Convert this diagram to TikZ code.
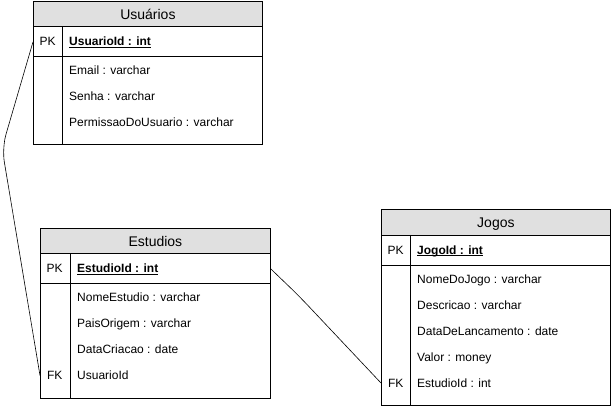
\documentclass[tikz,border=0pt]{standalone}
\usepackage{fontspec}
\setmainfont{Liberation Sans}

\begin{document}
\begin{tikzpicture}[x=1pt,y=-1pt,
	tblhead/.style={draw=color3, fill=color1, line width=0.8pt, anchor=north west, inner sep=0pt, minimum height=25.5pt, text height=10pt, text depth=0pt, font=\fontsize{14}{16}\selectfont},
	tblpart/.style={draw=color3, fill=white, line width=0.8pt, anchor=north west, inner sep=0pt},
	keycell/.style={anchor=west, inner sep=0pt, minimum width=29pt, text height=8.6pt, text depth=0pt, font=\fontsize{12}{14}\selectfont},
	field/.style={anchor=west, inner sep=0pt, text height=8.6pt, text depth=0pt, font=\fontsize{12}{14}\selectfont},
	pkfield/.style={field, font=\bfseries\fontsize{12}{14}\selectfont},
	divider/.style={draw=color3, line width=0.8pt},
	link/.style={draw=color3, line width=0.6pt, rounded corners=14pt}]
	\definecolor{color1}{HTML}{E0E0E0}
	\definecolor{color3}{gray}{0.}
	\useasboundingbox (0,0) rectangle (611,406);
	%% Usuarios ------
	\node[tblhead, minimum width=229pt] (usu) at (33,1) {Usuários};
	\node[tblpart, minimum width=229pt, minimum height=30pt] (usu-pk) at (33,26.5) {};
	\node[tblpart, minimum width=229pt, minimum height=88pt] (usu-body) at (33,56.5) {};
	\draw[divider] ([xshift=29pt]usu-pk.north west) -- ([xshift=29pt]usu-body.south west);
	\node[keycell] (usu-pkk) at (33,41.5) {PK};
	\node[pkfield] (usu-id) at (69,41.5) {\underline{UsuarioId : int}};
	\node[field] (usu-email) at (69,70.5) {Email : varchar};
	\node[field] (usu-senha) at (69,96.5) {Senha : varchar};
	\node[field] (usu-perm) at (69,122.5) {PermissaoDoUsuario : varchar};
	%% Estudios ------
	\node[tblhead, minimum width=230pt] (est) at (40,228) {Estudios};
	\node[tblpart, minimum width=230pt, minimum height=30pt] (est-pk) at (40,253.5) {};
	\node[tblpart, minimum width=230pt, minimum height=114pt] (est-body) at (40,283.5) {};
	\draw[divider] ([xshift=30pt]est-pk.north west) -- ([xshift=30pt]est-body.south west);
	\node[keycell] (est-pkk) at (40,268.5) {PK};
	\node[pkfield] (est-id) at (77,268.5) {\underline{EstudioId : int}};
	\node[field] (est-nome) at (77,297.5) {NomeEstudio : varchar};
	\node[field] (est-pais) at (77,323.5) {PaisOrigem : varchar};
	\node[field] (est-data) at (77,349.5) {DataCriacao : date};
	\node[keycell] (est-fk) at (40,375.5) {FK};
	\node[field] (est-usu) at (77,375.5) {UsuarioId};
	%% Jogos ---------
	\node[tblhead, minimum width=229pt] (jog) at (381,209.5) {Jogos};
	\node[tblpart, minimum width=229pt, minimum height=30pt] (jog-pk) at (381,235) {};
	\node[tblpart, minimum width=229pt, minimum height=140pt] (jog-body) at (381,265) {};
	\draw[divider] ([xshift=29pt]jog-pk.north west) -- ([xshift=29pt]jog-body.south west);
	\node[keycell] (jog-pkk) at (381,250) {PK};
	\node[pkfield] (jog-id) at (417,250) {\underline{\smash{JogoId : int}}};
	\node[field] (jog-nome) at (417,279) {NomeDoJogo : varchar};
	\node[field] (jog-desc) at (417,305) {Descricao : varchar};
	\node[field] (jog-data) at (417,331) {DataDeLancamento : date};
	\node[field] (jog-valor) at (417,357) {Valor : money};
	\node[keycell] (jog-fk) at (381,383) {FK};
	\node[field] (jog-est) at (417,383) {EstudioId : int};
	%% Edges ---------
	\coordinate (bend1) at (2,148);
	\coordinate (bend2) at (299,296);
	\draw[link] (usu-pk.west) -- (bend1) -- (est-fk.west);
	\draw[link] (est-pk.east) -- (bend2) -- (jog-fk.west);
\end{tikzpicture}
\end{document}
